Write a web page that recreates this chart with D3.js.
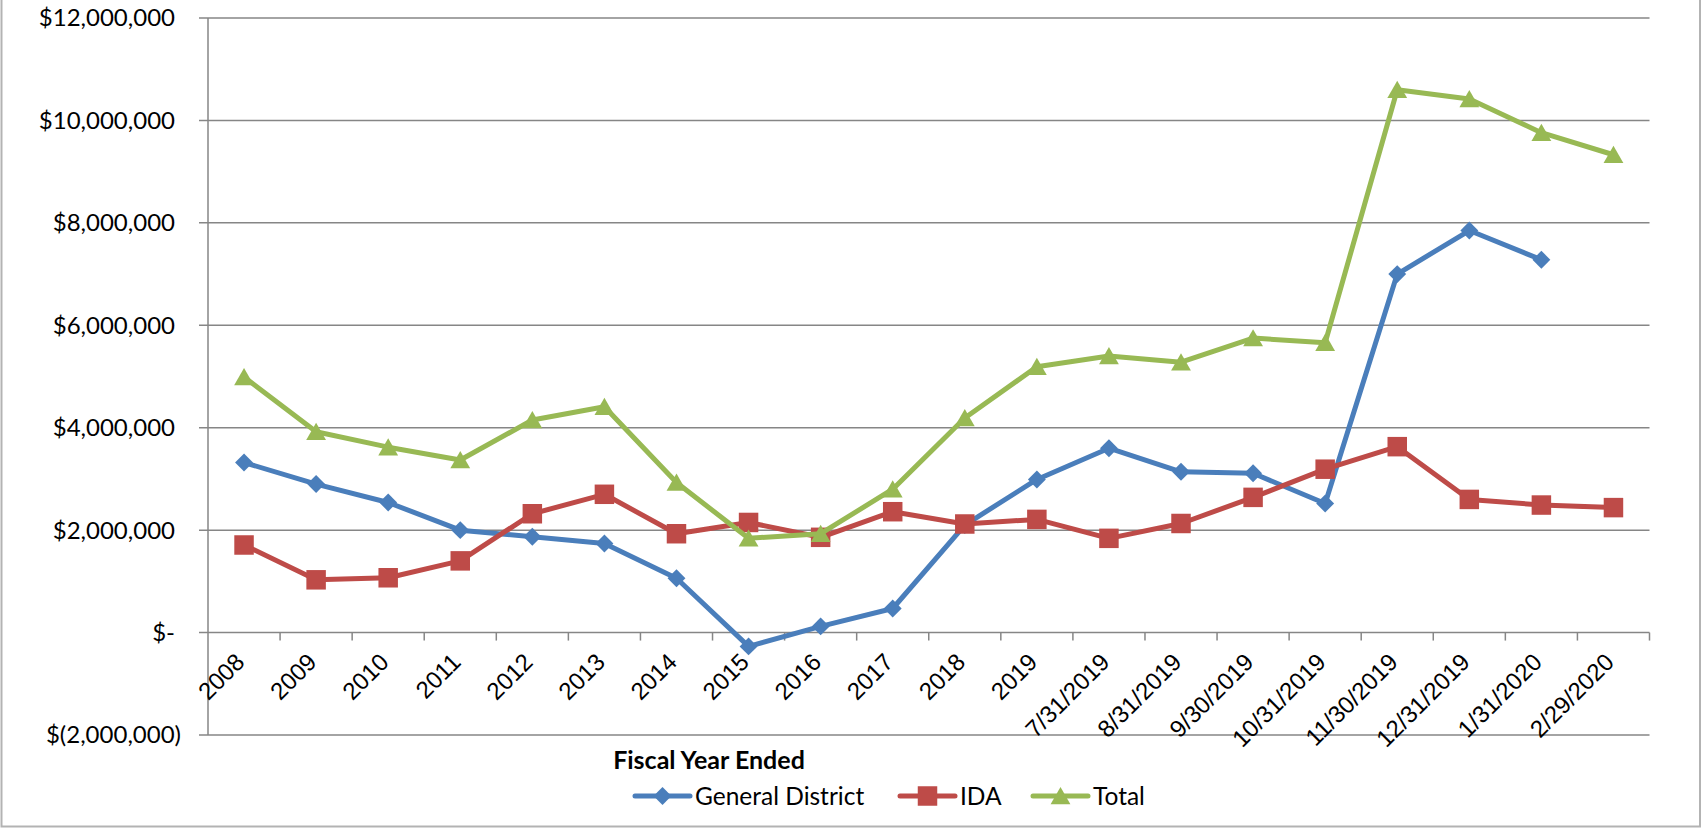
<!DOCTYPE html>
<html>
<head>
<meta charset="utf-8">
<script src="https://cdn.jsdelivr.net/npm/d3@7"></script>
<style>
  body { margin: 0; background: #fff; }
  svg { display: block; font-family: Lato, "Open Sans", sans-serif; }
</style>
</head>
<body>
<script>
const categories = ["2008", "2009", "2010", "2011", "2012", "2013", "2014", "2015", "2016", "2017",
    "2018", "2019", "7/31/2019", "8/31/2019", "9/30/2019", "10/31/2019", "11/30/2019",
    "12/31/2019", "1/31/2020", "2/29/2020"];

const generalDistrict = [3320000, 2900000, 2540000, 2000000, 1870000, 1740000, 1060000, -270000,
    120000, 470000, 2100000, 2990000, 3600000, 3140000, 3110000, 2520000, 7000000, 7850000,
    7280000, null];

const ida = [1710000, 1030000, 1070000, 1400000, 2320000, 2700000, 1930000, 2150000, 1860000,
    2360000, 2120000, 2210000, 1840000, 2130000, 2640000, 3190000, 3630000, 2600000, 2490000,
    2440000];

const total = [4990000, 3920000, 3620000, 3370000, 4150000, 4410000, 2930000, 1840000, 1930000,
    2800000, 4190000, 5190000, 5400000, 5280000, 5750000, 5660000, 10600000, 10420000, 9760000,
    9330000];

const yTicks = [-2000000, 0, 2000000, 4000000, 6000000, 8000000, 10000000, 12000000];

const seriesNames = ["General District", "IDA", "Total"];

const width = 1702;
const height = 828;
const plot = { left: 208, right: 1649.5, top: 18, bottom: 735 };
const gridColor = "#868686";

const series = [
    { name: seriesNames[0], values: generalDistrict, color: "#4A7EBB", marker: "diamond" },
    { name: seriesNames[1], values: ida, color: "#BE4B48", marker: "square" },
    { name: seriesNames[2], values: total, color: "#98B954", marker: "triangle" }
];

const svg = d3.select("body").append("svg")
    .attr("width", width)
    .attr("height", height);

// outer chart border
svg.append("path")
    .attr("d", `M1.5,0 V${height - 1.5} H${width - 2} V0`)
    .attr("fill", "none")
    .attr("stroke", "#b3b3b3")
    .attr("stroke-width", 2);

const x = d3.scaleBand()
    .domain(categories)
    .range([plot.left, plot.right])
    .padding(0);

const y = d3.scaleLinear()
    .domain([-2000000, 12000000])
    .range([plot.bottom, plot.top]);

const money = d3.format(",.0f");
const fmt = v => v === 0 ? "$-" : v < 0 ? `$(${money(-v)})` : `$${money(v)}`;

// horizontal gridlines + y labels
const yAxis = svg.append("g").attr("class", "y axis");
yAxis.selectAll("line.grid")
    .data(yTicks)
    .enter().append("line")
    .attr("class", "grid")
    .attr("x1", plot.left - 9)
    .attr("x2", plot.right)
    .attr("y1", d => y(d))
    .attr("y2", d => y(d))
    .attr("stroke", gridColor)
    .attr("stroke-width", 1.5);

yAxis.selectAll("text")
    .data(yTicks)
    .enter().append("text")
    .attr("x", d => d < 0 ? 181 : 175)
    .attr("y", d => y(d))
    .attr("dy", "0.35em")
    .attr("text-anchor", "end")
    .attr("font-size", 24)
    .attr("fill", "#000")
    .text(fmt);

// vertical axis line
svg.append("line")
    .attr("x1", plot.left).attr("x2", plot.left)
    .attr("y1", plot.top).attr("y2", plot.bottom)
    .attr("stroke", gridColor)
    .attr("stroke-width", 1.5);

// category axis sitting at zero
const xAxis = svg.append("g")
    .attr("class", "x axis")
    .attr("transform", `translate(0,${y(0)})`)
    .call(d3.axisBottom(x).tickSize(0).tickFormat(""));
xAxis.select(".domain").remove();

const boundaries = categories.map(c => x(c) + x.bandwidth());
xAxis.selectAll("line.tick-mark")
    .data(boundaries)
    .enter().append("line")
    .attr("class", "tick-mark")
    .attr("x1", d => d).attr("x2", d => d)
    .attr("y1", 0).attr("y2", 8)
    .attr("stroke", gridColor)
    .attr("stroke-width", 1.5);

xAxis.selectAll("text.cat")
    .data(categories)
    .enter().append("text")
    .attr("class", "cat")
    .attr("transform", d => `translate(${x(d) + x.bandwidth() / 2 - 4},${25}) rotate(-45)`)
    .attr("text-anchor", "end")
    .attr("dy", "0.35em")
    .attr("font-size", 24)
    .attr("fill", "#000")
    .text(d => d);

svg.append("text")
    .attr("x", 709)
    .attr("y", 769)
    .attr("text-anchor", "middle")
    .attr("font-size", 25)
    .attr("font-weight", "bold")
    .text("Fiscal Year Ended");

// marker shapes
function markerPath(kind) {
    if (kind === "diamond") return d3.symbol(d3.symbolSquare, 160)();
    if (kind === "square") return d3.symbol(d3.symbolSquare, 380)();
    return d3.symbol(d3.symbolTriangle, 170)();
}
function markerTransform(kind) {
    if (kind === "diamond") return "rotate(45)";
    if (kind === "triangle") return "translate(0,2.5)";
    return "";
}

const line = d3.line()
    .defined(d => d.v != null)
    .x(d => x(d.c) + x.bandwidth() / 2)
    .y(d => y(d.v));

series.forEach(s => {
    const pts = categories.map((c, i) => ({ c: c, v: s.values[i] }));
    const g = svg.append("g").attr("class", "series");
    g.append("path")
        .datum(pts)
        .attr("d", line)
        .attr("fill", "none")
        .attr("stroke", s.color)
        .attr("stroke-width", 5)
        .attr("stroke-linejoin", "round");
    g.selectAll("g.pt")
        .data(pts.filter(d => d.v != null))
        .enter().append("g")
        .attr("class", "pt")
        .attr("transform", d => `translate(${x(d.c) + x.bandwidth() / 2},${y(d.v)})`)
        .append("path")
        .attr("d", markerPath(s.marker))
        .attr("transform", markerTransform(s.marker))
        .attr("fill", s.color);
});

// legend
const legendX = [635, 900, 1033];
const legend = svg.append("g").attr("class", "legend");
series.forEach((s, i) => {
    const g = legend.append("g").attr("transform", `translate(${legendX[i]},796)`);
    g.append("line")
        .attr("x1", 0).attr("x2", 55)
        .attr("stroke", s.color)
        .attr("stroke-width", 5)
        .attr("stroke-linecap", "round");
    g.append("g")
        .attr("transform", "translate(27.5,0)")
        .append("path")
        .attr("d", markerPath(s.marker))
        .attr("transform", markerTransform(s.marker))
        .attr("fill", s.color);
    g.append("text")
        .attr("x", 60)
        .attr("dy", "0.35em")
        .attr("font-size", 24.5)
        .text(s.name);
});
</script>
</body>
</html>
